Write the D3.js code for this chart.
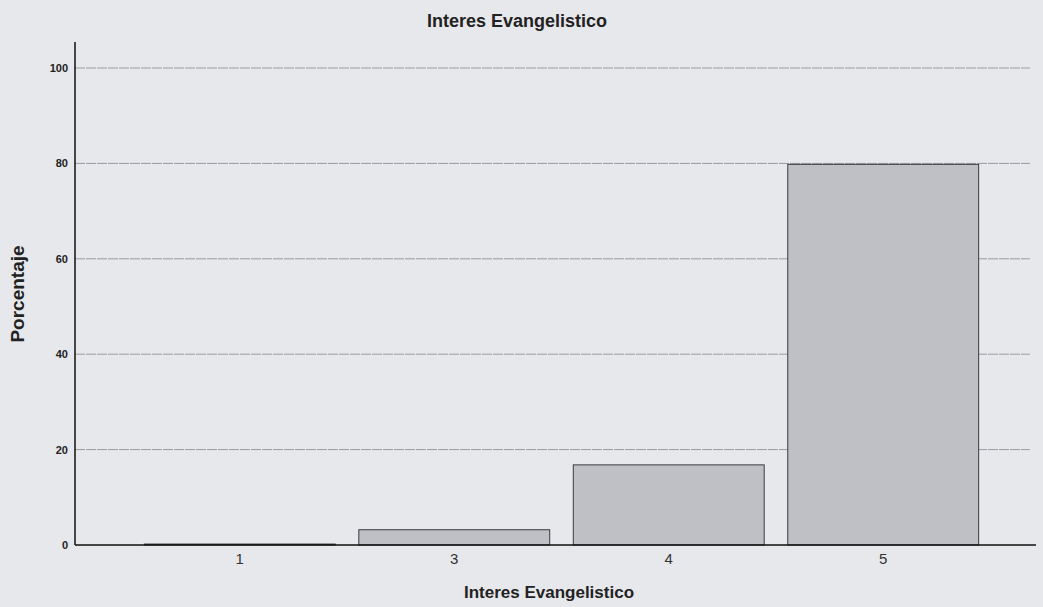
<!DOCTYPE html>
<html><head><meta charset="utf-8">
<script src="https://cdn.jsdelivr.net/npm/d3@7"></script>
<style>body{margin:0;background:#e7e8ec;}svg{display:block;}</style>
</head><body><svg id="c" width="1043" height="607"></svg>
<script>
const categories = ["1", "3", "4", "5"];
const percentages = [0.2, 3.2, 16.8, 79.8];
const yTicks = [0, 20, 40, 60, 80, 100];
const titleText = "Interes Evangelistico";
const xLabel = "Interes Evangelistico";
const yLabel = "Porcentaje";

const svg = d3.select("#c");
const W = 1043, H = 607;
const font = "Liberation Sans, Arial, sans-serif";
svg.append("rect").attr("width", W).attr("height", H).attr("fill", "#e7e8ec");
const y = d3.scaleLinear().domain([0, 100]).range([545, 68]);
const x = d3.scaleBand().domain(categories).range([80, 1043]).paddingInner(0.11).paddingOuter(0.3);

// gridlines
svg.append("g").selectAll("line").data(yTicks.filter(d => d > 0)).join("line")
  .attr("x1", 75).attr("x2", 1030)
  .attr("y1", d => y(d)).attr("y2", d => y(d))
  .attr("stroke", "#9a9ba0").attr("stroke-width", 1).attr("stroke-dasharray", "10,1");

// bars
svg.append("g").selectAll("rect").data(categories).join("rect")
  .attr("x", d => x(d)).attr("width", x.bandwidth())
  .attr("y", (d, i) => y(percentages[i]))
  .attr("height", (d, i) => y(0) - y(percentages[i]))
  .attr("fill", "#bfc0c5").attr("stroke", "#3a3a3e").attr("stroke-width", 1);

// axes
const ya = svg.append("g").attr("transform", "translate(75,0)")
  .call(d3.axisLeft(y).tickValues(yTicks).tickSize(0).tickPadding(7));
ya.select(".domain").remove();
ya.selectAll("text").attr("font-family", font)
  .attr("font-size", 11).attr("font-weight", "bold").attr("fill", "#222");
svg.append("line").attr("x1", 75).attr("x2", 75).attr("y1", 42).attr("y2", 545)
  .attr("stroke", "#111").attr("stroke-width", 1.5);

const xa = svg.append("g").attr("transform", "translate(0,545)")
  .call(d3.axisBottom(x).tickSize(0).tickPadding(8));
xa.select(".domain").remove();
xa.selectAll("text").attr("font-family", font)
  .attr("font-size", 15).attr("fill", "#333");
svg.append("line").attr("x1", 75).attr("x2", 1036).attr("y1", 545).attr("y2", 545)
  .attr("stroke", "#111").attr("stroke-width", 1.5);

// titles
svg.append("text").attr("x", 517).attr("y", 27).attr("text-anchor", "middle")
  .attr("font-family", font).attr("font-size", 18).attr("font-weight", "bold")
  .attr("fill", "#222").text(titleText);
svg.append("text").attr("x", 549).attr("y", 598).attr("text-anchor", "middle")
  .attr("font-family", font).attr("font-size", 17)
  .attr("font-weight", "bold").attr("fill", "#222").text(xLabel);
svg.append("text").attr("transform", "translate(24,294) rotate(-90)").attr("text-anchor", "middle")
  .attr("font-family", font).attr("font-size", 19)
  .attr("font-weight", "bold").attr("fill", "#222").text(yLabel);
</script></body></html>
